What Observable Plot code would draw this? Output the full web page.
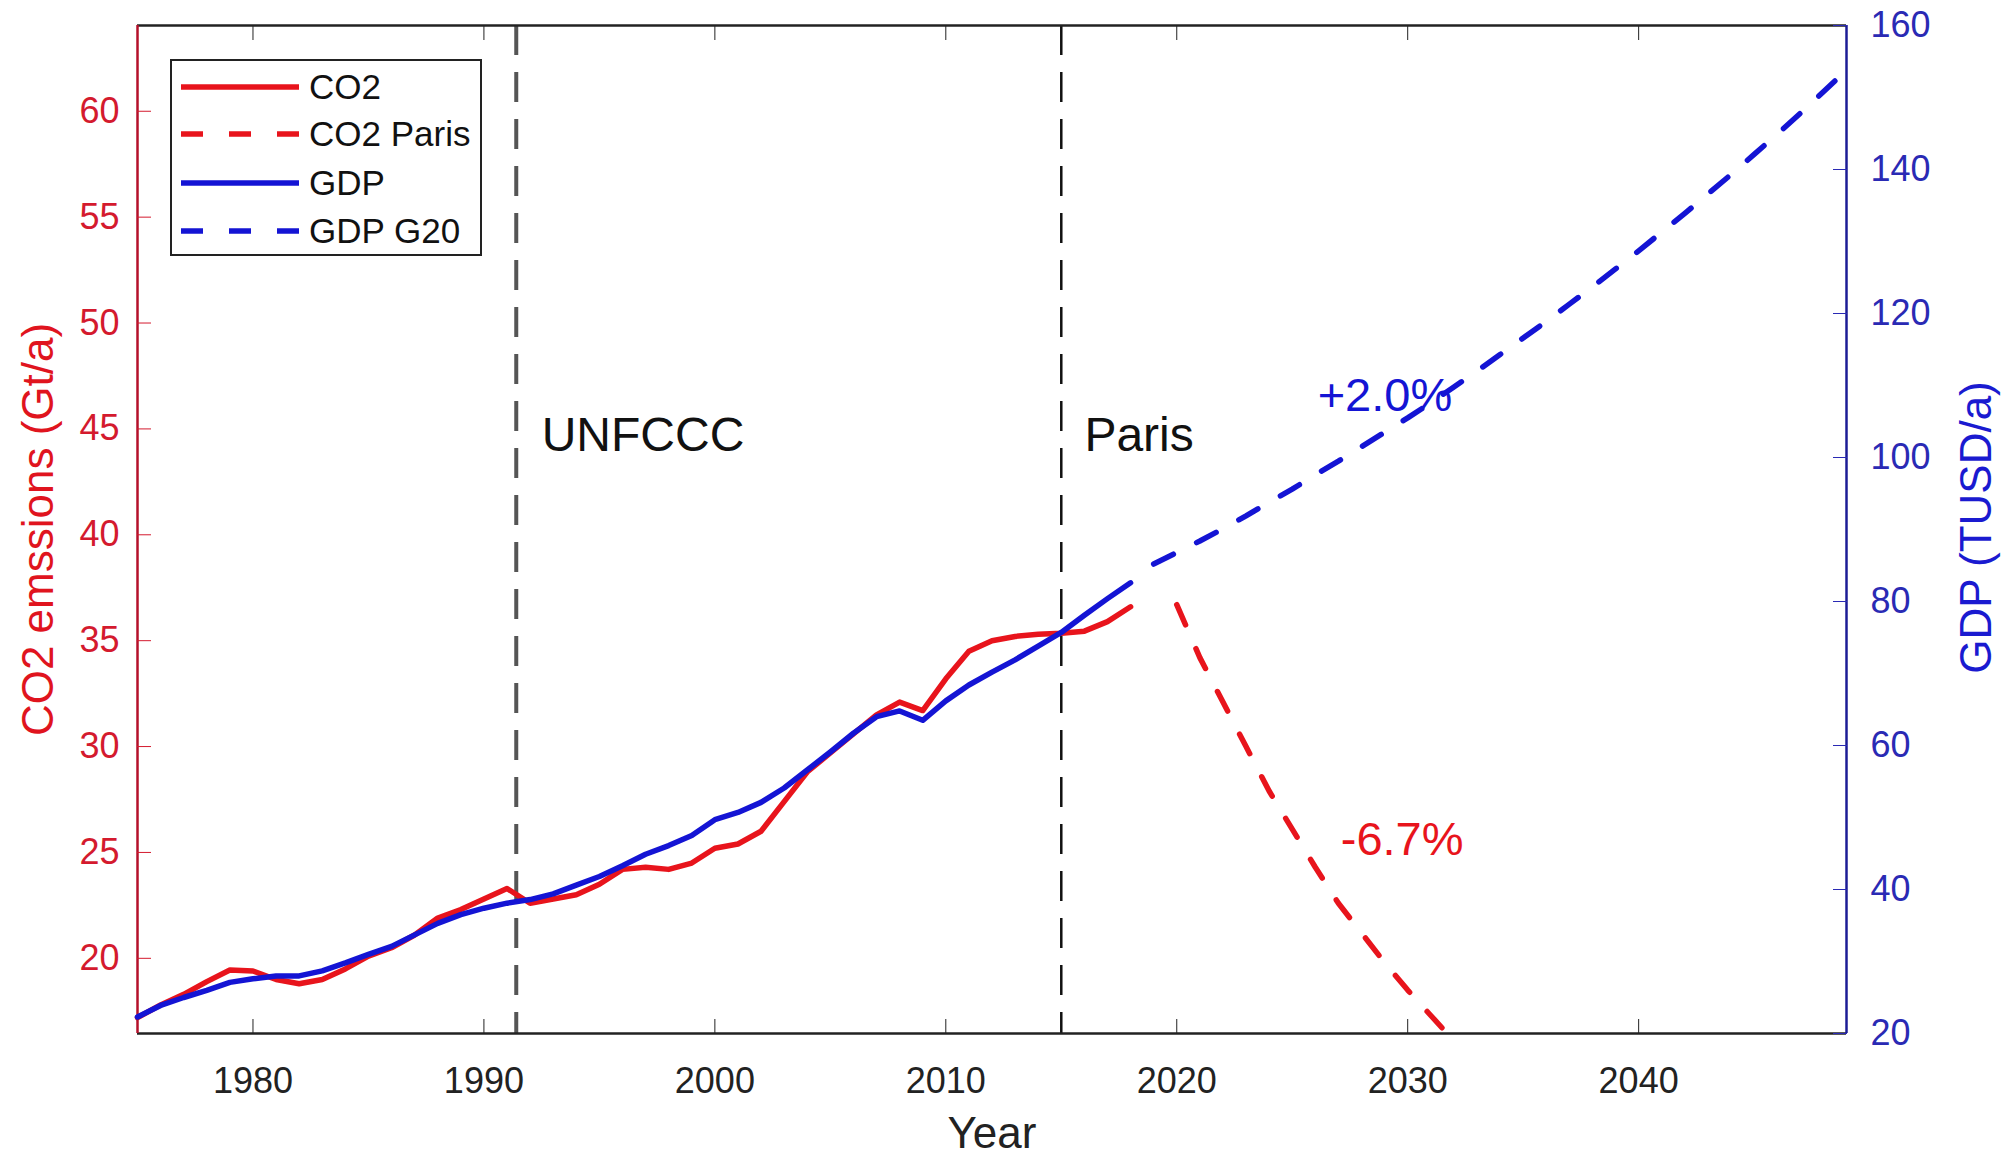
<!DOCTYPE html>
<html>
<head>
<meta charset="utf-8">
<script src="https://cdn.jsdelivr.net/npm/d3@7"></script>
<script src="https://cdn.jsdelivr.net/npm/@observablehq/plot@0.6"></script>
<style>
  html, body { margin: 0; padding: 0; background: #fff; }
  #wrap { position: relative; width: 2005px; height: 1158px; font-family: "Liberation Sans", Arial, sans-serif; }
  #wrap > svg { position: absolute; left: 0; top: 0; }
  #legend { position: absolute; left: 170px; top: 59px; width: 308px; height: 193px; border: 2.5px solid #222; background: #fff; }
  .row { position: absolute; left: 0; height: 40px; display: flex; align-items: center; }
  .row svg { margin-left: 9px; }
  .row span { margin-left: 10px; font-size: 35px; color: #111; line-height: 40px; }
</style>
</head>
<body>
<div id="wrap"></div>
<script>
// ---- data ----
const histYears = [1975,1976,1977,1978,1979,1980,1981,1982,1983,1984,1985,1986,1987,1988,1989,1990,1991,1992,1993,1994,1995,1996,1997,1998,1999,2000,2001,2002,2003,2004,2005,2006,2007,2008,2009,2010,2011,2012,2013,2014,2015,2016,2017,2018];
const co2Values = [17.2,17.8,18.3,18.9,19.45,19.4,19.0,18.8,19.0,19.5,20.1,20.5,21.1,21.9,22.3,22.8,23.3,22.6,22.8,23.0,23.5,24.2,24.3,24.2,24.5,25.2,25.4,26.0,27.4,28.8,29.7,30.6,31.5,32.1,31.7,33.2,34.5,35.0,35.2,35.3,35.35,35.45,35.9,36.6];
const gdpValues = [22.3,23.9,25.0,26.0,27.1,27.6,28.0,28.0,28.7,29.8,31.0,32.1,33.7,35.3,36.5,37.4,38.1,38.6,39.4,40.6,41.8,43.3,44.9,46.1,47.5,49.7,50.7,52.1,54.1,56.6,59.1,61.7,64.0,64.8,63.5,66.2,68.4,70.2,71.9,73.8,75.7,78.1,80.4,82.6];
const parisYears = [2020,2021,2022,2023,2024,2025,2026,2027,2028,2029,2030,2031,2032];
const co2ParisValues = [36.7,34.2,32.1,30.0,27.9,26.1,24.3,22.6,21.2,19.8,18.5,17.3,16.1];
const g20Years = [2019,2020,2021,2022,2023,2024,2025,2026,2027,2028,2029,2030,2031,2032,2033,2034,2035,2036,2037,2038,2039,2040,2041,2042,2043,2044,2045,2046,2047,2048,2049];
const gdpG20Values = [85.2,86.8,88.4,90.1,91.9,93.8,95.6,97.6,99.5,101.5,103.5,105.5,107.6,109.8,112.0,114.3,116.6,118.9,121.3,123.7,126.2,128.7,131.3,133.9,136.6,139.3,142.1,144.9,147.8,150.8,153.8];
const xTicks = [1980,1990,2000,2010,2020,2030,2040];
const co2Ticks = [20,25,30,35,40,45,50,55,60];
const gdpTicks = [20,40,60,80,100,120,140,160];
const eventYears = {UNFCCC: 1991.4, Paris: 2015};
const xDomain = [1975, 2049];
const co2Domain = [16.45, 64.05];
const gdpDomain = [20, 160];
const eventLabels = [{text: "UNFCCC", year: 1992.5, value: 44.7}, {text: "Paris", year: 2016.0, value: 44.7}];
const co2Note = [{text: "-6.7%", year: 2027.1, value: 25.6}];
const gdpNote = [{text: "+2.0%", year: 2026.1, value: 108.5}];
const legendItems = [
  {label: "CO2", color: "#e8141c", dash: null},
  {label: "CO2 Paris", color: "#e8141c", dash: "22,26"},
  {label: "GDP", color: "#1414d4", dash: null},
  {label: "GDP G20", color: "#1414d4", dash: "22,26"}
];

// ---- build tables ----
const co2Hist = histYears.map((year, i) => ({year, value: co2Values[i]}));
const gdpHist = histYears.map((year, i) => ({year, value: gdpValues[i]}));
const co2Paris = parisYears.map((year, i) => ({year, value: co2ParisValues[i]}));
const gdpG20 = g20Years.map((year, i) => ({year, value: gdpG20Values[i]}));

const RED = "#e8141c", BLUE = "#1414d4";
const FONT = "'Liberation Sans', Arial, Helvetica, sans-serif";
const common = {
  width: 2005, height: 1158,
  marginLeft: 137, marginRight: 159, marginTop: 25, marginBottom: 125,
  style: {fontFamily: FONT, fontSize: "36px", background: "transparent", overflow: "visible"}
};

const plot1 = Plot.plot({
  ...common,
  x: {domain: xDomain},
  y: {domain: co2Domain},
  marks: [
    Plot.ruleX([eventYears.UNFCCC], {stroke: "#555", strokeWidth: 4, strokeDasharray: "30,17"}),
    Plot.ruleX([eventYears.Paris], {stroke: "#111", strokeWidth: 2.5, strokeDasharray: "30,17"}),
    Plot.line(co2Hist, {x: "year", y: "value", stroke: RED, strokeWidth: 5.5, strokeLinejoin: "round"}),
    Plot.line(co2Paris, {x: "year", y: "value", stroke: RED, strokeWidth: 5.5, strokeDasharray: "22,26", clip: true}),
    Plot.ruleY([co2Domain[0]], {stroke: "#222", strokeWidth: 2.5}),
    Plot.ruleY([co2Domain[1]], {stroke: "#222", strokeWidth: 2.5}),
    Plot.ruleX([xDomain[0]], {stroke: "#b4102a", strokeWidth: 2.5}),
    Plot.axisX({anchor: "bottom", ticks: xTicks, tickFormat: d => String(d), tickSize: -14, tickPadding: 48, fontSize: 36, color: "#222", label: null}),
    Plot.axisX({anchor: "top", ticks: xTicks, tickFormat: () => "", tickSize: -14, color: "#222", label: null}),
    Plot.axisY({anchor: "left", ticks: co2Ticks, tickFormat: d => String(d), tickSize: -14, tickPadding: 32, fontSize: 36, color: "#d41a2e", label: null}),
    Plot.text(eventLabels, {x: "year", y: "value", text: "text", textAnchor: "start", fontSize: 48, fill: "#111"}),
    Plot.text(co2Note, {x: "year", y: "value", text: "text", textAnchor: "start", fontSize: 47, fill: RED}),
    Plot.text(["Year"], {frameAnchor: "bottom", dy: 114, text: d => d, fontSize: 44, fill: "#222"}),
    Plot.text(["CO2 emssions (Gt/a)"], {frameAnchor: "left", textAnchor: "middle", dx: -99, rotate: -90, text: d => d, fontSize: 44, fill: "#e0141e"})
  ]
});

const plot2 = Plot.plot({
  ...common,
  x: {domain: xDomain, axis: null},
  y: {domain: gdpDomain},
  marks: [
    Plot.line(gdpHist, {x: "year", y: "value", stroke: BLUE, strokeWidth: 5.5, strokeLinejoin: "round"}),
    Plot.line(gdpG20, {x: "year", y: "value", stroke: BLUE, strokeWidth: 5.5, strokeDasharray: "22,26", clip: true}),
    Plot.ruleX([xDomain[1]], {stroke: "#1c1c96", strokeWidth: 2.5}),
    Plot.axisY({anchor: "right", ticks: gdpTicks, tickFormat: d => String(d), tickSize: -14, tickPadding: 38, fontSize: 36, color: "#2a2ab4", label: null}),
    Plot.text(gdpNote, {x: "year", y: "value", text: "text", textAnchor: "start", fontSize: 47, fill: BLUE}),
    Plot.text(["GDP (TUSD/a)"], {frameAnchor: "right", textAnchor: "middle", dx: 130, dy: -2, rotate: -90, text: d => d, fontSize: 44, fill: "#1a1ad0"})
  ]
});

const wrap = document.getElementById("wrap");
wrap.appendChild(plot1);
wrap.appendChild(plot2);

// legend
const legend = document.createElement("div");
legend.id = "legend";
const rowCenters = [26, 73, 122, 170];
legendItems.forEach((item, i) => {
  const row = document.createElement("div");
  row.className = "row";
  row.style.top = (rowCenters[i] - 20) + "px";
  const sw = d3.create("svg").attr("width", 118).attr("height", 10);
  sw.append("line").attr("x1", 0).attr("x2", 118).attr("y1", 5).attr("y2", 5)
    .attr("stroke", item.color).attr("stroke-width", 5.5)
    .attr("stroke-dasharray", item.dash);
  row.appendChild(sw.node());
  const span = document.createElement("span");
  span.textContent = item.label;
  row.appendChild(span);
  legend.appendChild(row);
});
wrap.appendChild(legend);
</script>
</body>
</html>
